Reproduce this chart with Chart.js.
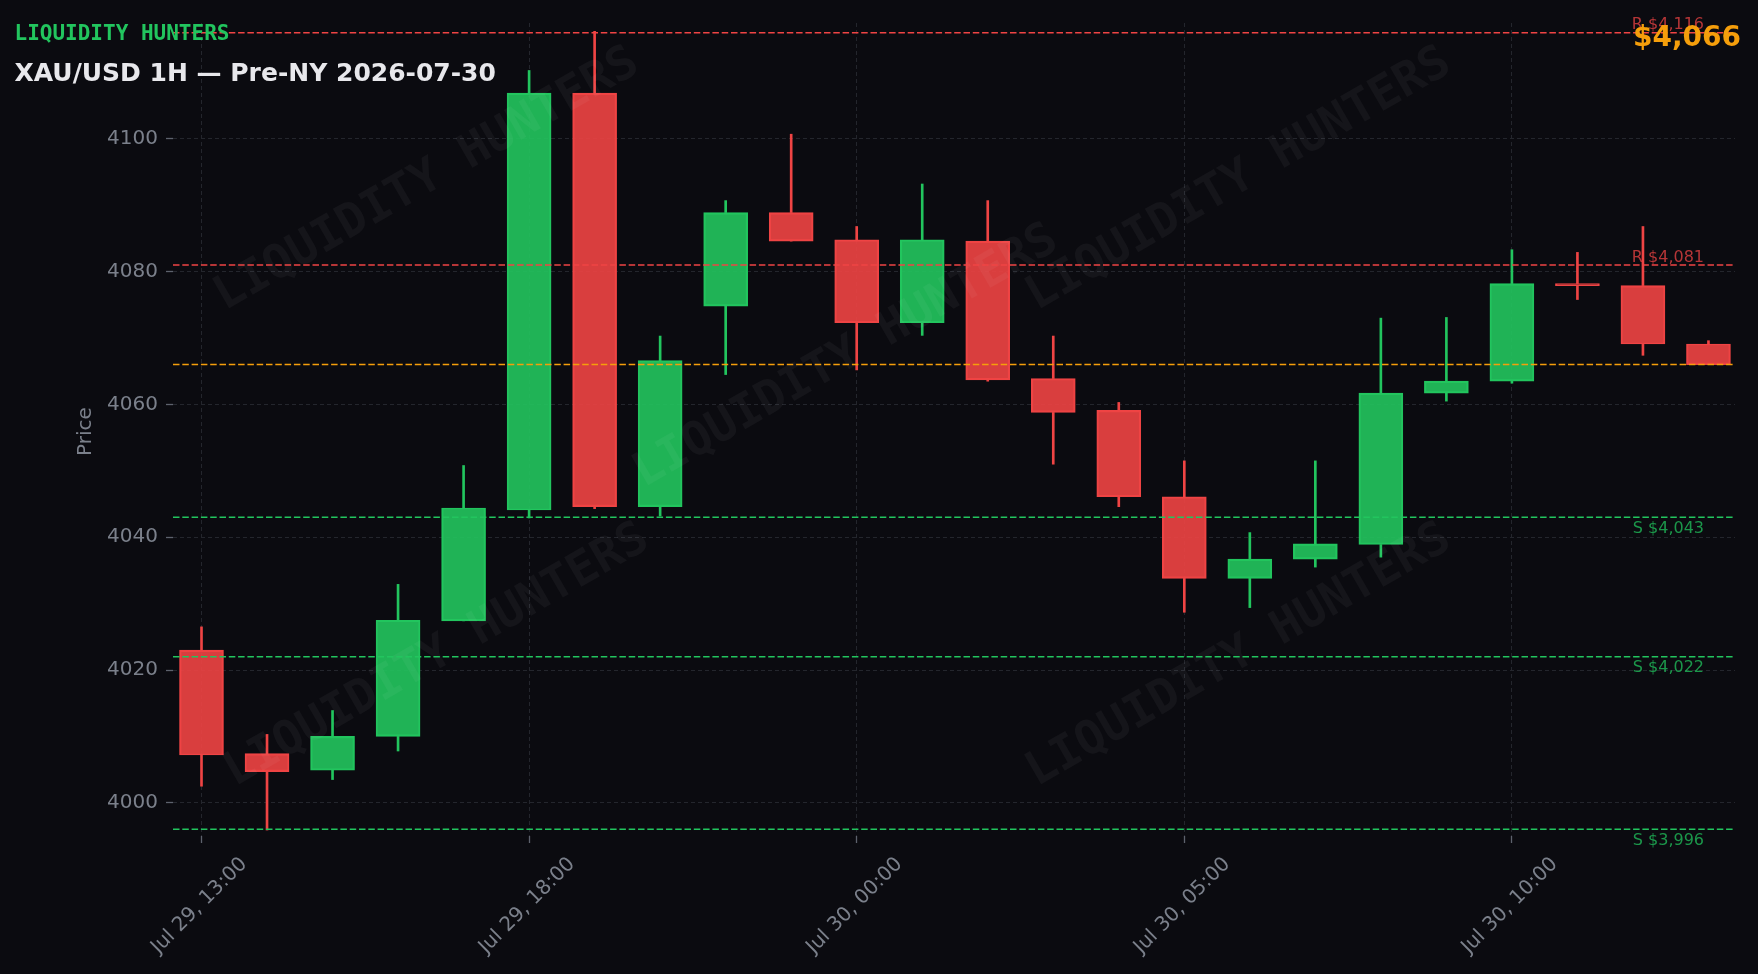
<!DOCTYPE html>
<html><head><meta charset="utf-8">
<script src="https://cdn.jsdelivr.net/npm/chart.js@4.4.1/dist/chart.umd.min.js"></script>
<style>html,body{margin:0;padding:0;background:#0b0b10;overflow:hidden}canvas{display:block}</style>
</head><body>
<canvas id="c" width="1758" height="974"></canvas>
<script>
// ---- data ----
const times = ['Jul 29, 13:00','Jul 29, 14:00','Jul 29, 15:00','Jul 29, 16:00','Jul 29, 17:00','Jul 29, 18:00','Jul 29, 19:00','Jul 29, 20:00','Jul 29, 21:00','Jul 29, 23:00','Jul 30, 00:00','Jul 30, 01:00','Jul 30, 02:00','Jul 30, 03:00','Jul 30, 04:00','Jul 30, 05:00','Jul 30, 06:00','Jul 30, 07:00','Jul 30, 08:00','Jul 30, 09:00','Jul 30, 10:00','Jul 30, 11:00','Jul 30, 12:00','Jul 30, 13:00'];
const opens  = [4023.0,4007.4,4004.9,4010.0,4027.4,4044.1,4106.9,4044.6,4074.8,4088.9,4084.8,4072.3,4084.6,4063.9,4059.1,4046.1,4033.8,4036.7,4038.9,4061.7,4063.5,4078.2,4077.9,4069.1];
const highs  = [4026.5,4010.3,4013.9,4032.9,4050.8,4110.3,4116.2,4070.3,4090.7,4100.7,4086.8,4093.2,4090.7,4070.3,4060.3,4051.5,4040.7,4051.5,4073.0,4073.1,4083.3,4082.9,4086.8,4069.6];
const lows   = [4002.5,3995.9,4003.5,4007.8,4027.4,4042.9,4044.3,4043.2,4064.5,4084.6,4065.2,4070.4,4063.5,4051.0,4044.6,4028.7,4029.4,4035.5,4037.0,4060.5,4063.2,4075.8,4067.4,4066.0];
const closes = [4007.2,4004.7,4010.0,4027.5,4044.4,4106.9,4044.6,4066.6,4088.9,4084.6,4072.3,4084.8,4063.7,4058.8,4046.1,4033.8,4036.7,4039.0,4061.7,4063.5,4078.2,4077.9,4069.1,4066.0];
const xTickIndex = [0,5,10,15,20];
const yTicks = [4000,4020,4040,4060,4080,4100];
const levelValues = [4116,4081,4043,4022,3996];
const levelKinds  = ['R','R','S','S','S'];
const currentPrice = 4066;
const brand = 'LIQUIDITY HUNTERS';
const title = 'XAU/USD 1H \u2014 Pre-NY 2026-07-30';
const yTitle = 'Price';

// ---- styles ----
const BG = '#0b0b10', GREEN = '#22c55e', RED = '#ef4444', ORANGE = '#f59e0b';
const GREEN_F = 'rgba(34,197,94,0.9)', RED_F = 'rgba(239,68,68,0.9)';
const GRID = '#24262d', TICKC = '#5d626d', LABEL = '#7b808b';

const up = opens.map((o,i)=>closes[i]>=o);
const bodyData = opens.map((o,i)=>({x:i, y:[o, closes[i]]}));
const upperWick = opens.map((o,i)=>({x:i, y:[Math.max(o,closes[i]), highs[i]]}));
const lowerWick = opens.map((o,i)=>({x:i, y:[lows[i], Math.min(o,closes[i])]}));
const fillCols = up.map(u=>u?GREEN_F:RED_F);
const lineCols = up.map(u=>u?GREEN:RED);

const fmt = v => '$' + v.toLocaleString('en-US');

const deco = {
  id:'deco',
  beforeDraw(chart){
    const c = chart.ctx; c.save(); c.fillStyle = BG; c.fillRect(0,0,chart.width,chart.height); c.restore();
  },
  afterDatasetsDraw(chart){
    const c = chart.ctx, a = chart.chartArea, ys = chart.scales.y;
    // watermark
    c.save();
    c.beginPath(); c.rect(a.left,a.top,a.right-a.left,a.bottom-a.top); c.clip();
    c.font = 'bold 47px "DejaVu Sans Mono"';
    c.fillStyle = 'rgba(255,255,255,0.045)';
    c.textAlign = 'center'; c.textBaseline = 'middle';
    [[427,180],[1239,180],[846,357],[437,656],[1239,656]].forEach(([x,y])=>{
      c.save(); c.translate(x,y); c.rotate(-30*Math.PI/180); c.fillText(brand,0,0); c.restore();
    });
    c.restore();
    // level lines
    c.save();
    c.lineWidth = 1.5; c.setLineDash([6.5,2.8]);
    levelValues.forEach((v,i)=>{
      const y = ys.getPixelForValue(v);
      c.strokeStyle = levelKinds[i]==='R'?RED:GREEN;
      c.beginPath(); c.moveTo(a.left,y); c.lineTo(a.right,y); c.stroke();
    });
    const yc = ys.getPixelForValue(currentPrice);
    c.strokeStyle = ORANGE; c.beginPath(); c.moveTo(a.left,yc); c.lineTo(a.right,yc); c.stroke();
    c.setLineDash([]);
    c.font = '16px "DejaVu Sans"'; c.textAlign = 'right';
    levelValues.forEach((v,i)=>{
      const y = ys.getPixelForValue(v);
      if(levelKinds[i]==='R'){ c.fillStyle='rgba(239,68,68,0.75)'; c.textBaseline='bottom'; c.fillText('R '+fmt(v), 1704, y+0.5); }
      else { c.fillStyle='rgba(34,197,94,0.75)'; c.textBaseline='top'; c.fillText('S '+fmt(v), 1704, y+3.5); }
    });
    c.restore();
  },
  afterDraw(chart){
    const c = chart.ctx, a = chart.chartArea, xs = chart.scales.x;
    c.save();
    // x labels (rotated, centred)
    c.font = '20px "DejaVu Sans"'; c.fillStyle = LABEL; c.textAlign='center'; c.textBaseline='middle';
    xTickIndex.forEach(idx=>{
      const x = xs.getPixelForValue(idx);
      const w = c.measureText(times[idx]).width;
      const cy = a.bottom + 17 + (w+23)*0.3536;
      c.save(); c.translate(x-2, cy); c.rotate(-Math.PI/4); c.fillText(times[idx],0,0); c.restore();
    });
    // y title
    c.save(); c.translate(86,(a.top+a.bottom)/2 + 2); c.rotate(-Math.PI/2); c.fillText(yTitle,0,0); c.restore();
    // titles
    c.textAlign='left'; c.textBaseline='alphabetic';
    c.font = 'bold 21px "DejaVu Sans Mono"'; c.fillStyle = GREEN; c.fillText(brand, 14.5, 40);
    c.font = 'bold 25px "DejaVu Sans"'; c.fillStyle = '#e8e8ec'; c.fillText(title, 14.5, 81);
    c.font = 'bold 28px "DejaVu Sans"'; c.fillStyle = ORANGE; c.textAlign='right'; c.fillText(fmt(currentPrice), 1741, 45.5);
    c.restore();
  }
};

const gridOpts = {color:GRID, lineWidth:1, tickColor:TICKC, tickLength:7, tickWidth:1.3, tickBorderDash:[20,0], offset:false};

new Chart(document.getElementById('c'), {
  type:'bar',
  data:{ datasets:[
    {data:bodyData, backgroundColor:fillCols, borderColor:lineCols, borderWidth:1.5, borderSkipped:false, barThickness:44, grouped:false},
    {data:upperWick, backgroundColor:lineCols, borderWidth:0, barThickness:2, grouped:false},
    {data:lowerWick, backgroundColor:lineCols, borderWidth:0, barThickness:2, grouped:false}
  ]},
  options:{
    responsive:false, animation:false, devicePixelRatio:1,
    layout:{padding:{top:23,right:23,left:0,bottom:0}},
    plugins:{legend:{display:false}, tooltip:{enabled:false}},
    scales:{
      x:{type:'linear', min:-0.435, max:23.405, offset:false,
         afterBuildTicks:s=>{s.ticks = xTickIndex.map(v=>({value:v}));},
         afterFit:s=>{s.height = 138;},
         ticks:{display:false}, grid:gridOpts, border:{display:false, dash:[4,3]}},
      y:{type:'linear', min:3995.0, max:4117.45,
         afterBuildTicks:s=>{s.ticks = yTicks.map(v=>({value:v}));},
         afterFit:s=>{s.width = 173;},
         ticks:{color:LABEL, font:{family:'DejaVu Sans', size:20}, padding:8, callback:v=>String(v)},
         grid:gridOpts, border:{display:false, dash:[4,3]}}
    }
  },
  plugins:[deco]
});
</script>
</body></html>
